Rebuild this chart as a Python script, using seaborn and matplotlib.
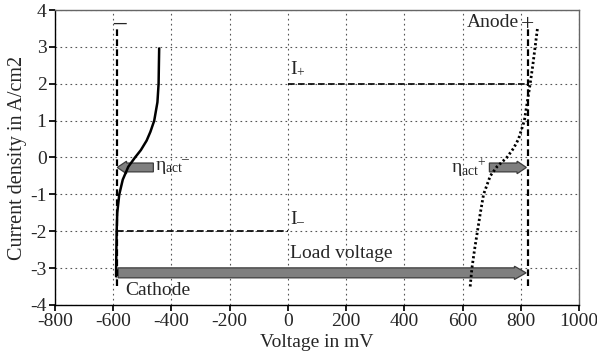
import matplotlib
matplotlib.use("Agg")
import matplotlib.pyplot as plt
import seaborn as sns
import pandas as pd

# cathode polarisation curve (solid)
cath_v = [-442, -443, -444, -448, -459, -472, -485, -505, -525, -548, -567, -579,
          -586, -588, -589, -590, -590]
cath_i = [2.96, 2.5, 2.0, 1.5, 1.0, 0.7, 0.46, 0.2, 0.0, -0.25, -0.6, -1.0,
          -1.5, -2.0, -2.5, -3.0, -3.45]

# anode polarisation curve (dotted)
anode_v = [626, 632, 641, 651, 661, 672, 695, 718, 752, 775, 792, 812, 822, 832, 841, 849, 857]
anode_i = [-3.5, -3.0, -2.5, -2.0, -1.5, -1.0, -0.5, -0.25, 0.0, 0.25, 0.5, 1.0,
           1.5, 2.0, 2.5, 3.0, 3.5]

# reference levels
u_cathode = -588
u_anode = 823
i_plus = 2.0
i_minus = -2.0
eta_y = -0.27
load_y = -3.13

sns.set_theme(style="whitegrid")
plt.rcParams['font.family'] = ['Liberation Serif', 'DejaVu Serif']
plt.rcParams['axes.unicode_minus'] = False
plt.rcParams['mathtext.fontset'] = 'custom'
plt.rcParams['mathtext.rm'] = 'Liberation Serif'
plt.rcParams['mathtext.it'] = 'Liberation Serif:italic'

fig, ax = plt.subplots(figsize=(5.97, 3.6), dpi=100)
fig.subplots_adjust(left=0.092, right=0.97, top=0.972, bottom=0.153)
ax.set_facecolor("white")

df_c = pd.DataFrame({"v": cath_v, "i": cath_i})
df_a = pd.DataFrame({"v": anode_v, "i": anode_i})
sns.lineplot(data=df_c, x="v", y="i", sort=False, color="black", lw=1.8, ax=ax)
sns.lineplot(data=df_a, x="v", y="i", sort=False, color="black", lw=2.0,
             linestyle=(0, (0.8, 0.9)), ax=ax)

# vertical equilibrium lines
ax.plot([u_cathode, u_cathode], [-3.5, 3.55], color="black", lw=1.6, ls=(0, (3, 1.5)))
ax.plot([u_anode, u_anode], [-3.5, 3.5], color="black", lw=1.6, ls=(0, (3, 1.5)))

# current levels
ax.plot([0, u_anode], [i_plus, i_plus], color="black", lw=1.2, ls=(0, (4, 2)))
ax.plot([u_cathode, 0], [i_minus, i_minus], color="black", lw=1.2, ls=(0, (4, 2)))

# arrows
arrow_kw = dict(width=0.24, head_width=0.34, head_length=32, length_includes_head=True,
                fc="#7f7f7f", ec="#3c3c3c", lw=0.9)
ax.arrow(-462, eta_y, u_cathode + 2 + 462, 0, **arrow_kw)
ax.arrow(692, eta_y, u_anode - 4 - 692, 0, **arrow_kw)
ax.arrow(u_cathode + 5, load_y, 818 - u_cathode - 5, 0, width=0.27, head_width=0.36,
         head_length=40, length_includes_head=True, fc="#7f7f7f", ec="#3c3c3c", lw=0.9)

fs = 14
ax.text(u_cathode + 8, 3.63, "\u2013", ha="center", va="center", fontsize=18, fontweight="bold")
ax.text(792, 3.65, "Anode", ha="right", va="center", fontsize=fs)
ax.text(822, 3.62, "+", ha="center", va="center", fontsize=17)
ax.text(8, 2.42, "I$_{+}$", ha="left", va="center", fontsize=fs)
ax.text(8, -1.62, "I$_{\u2013}$", ha="left", va="center", fontsize=fs)
ax.text(-455, eta_y, "\u03b7$_{\\mathrm{act}}$$^{\u2013}$", ha="left", va="center", fontsize=fs)
ax.text(682, eta_y, "\u03b7$_{\\mathrm{act}}$$^{+}$", ha="right", va="center", fontsize=fs)
ax.text(8, -2.6, "Load voltage", ha="left", va="center", fontsize=fs)
ax.text(-560, -3.62, "Cathode", ha="left", va="center", fontsize=fs)

ax.set_xlim(-800, 1000)
ax.set_ylim(-4, 4)
ax.set_xticks(range(-800, 1001, 200))
ax.set_yticks(range(-4, 5))
ax.set_xlabel("Voltage in mV", fontsize=14, labelpad=3)
ax.set_ylabel("Current density in A/cm2", fontsize=14.5, labelpad=2)
ax.tick_params(labelsize=fs, length=4, color="black", bottom=True, left=True, pad=2)
ax.grid(True, color="#555555", ls=(0, (1.5, 3)), lw=0.8)
for s in ["left", "bottom"]:
    ax.spines[s].set_color("black")
for s in ["top", "right"]:
    ax.spines[s].set_color("#666666")
for s in ax.spines.values():
    s.set_linewidth(1.0)

fig.savefig("out.png", dpi=100)
